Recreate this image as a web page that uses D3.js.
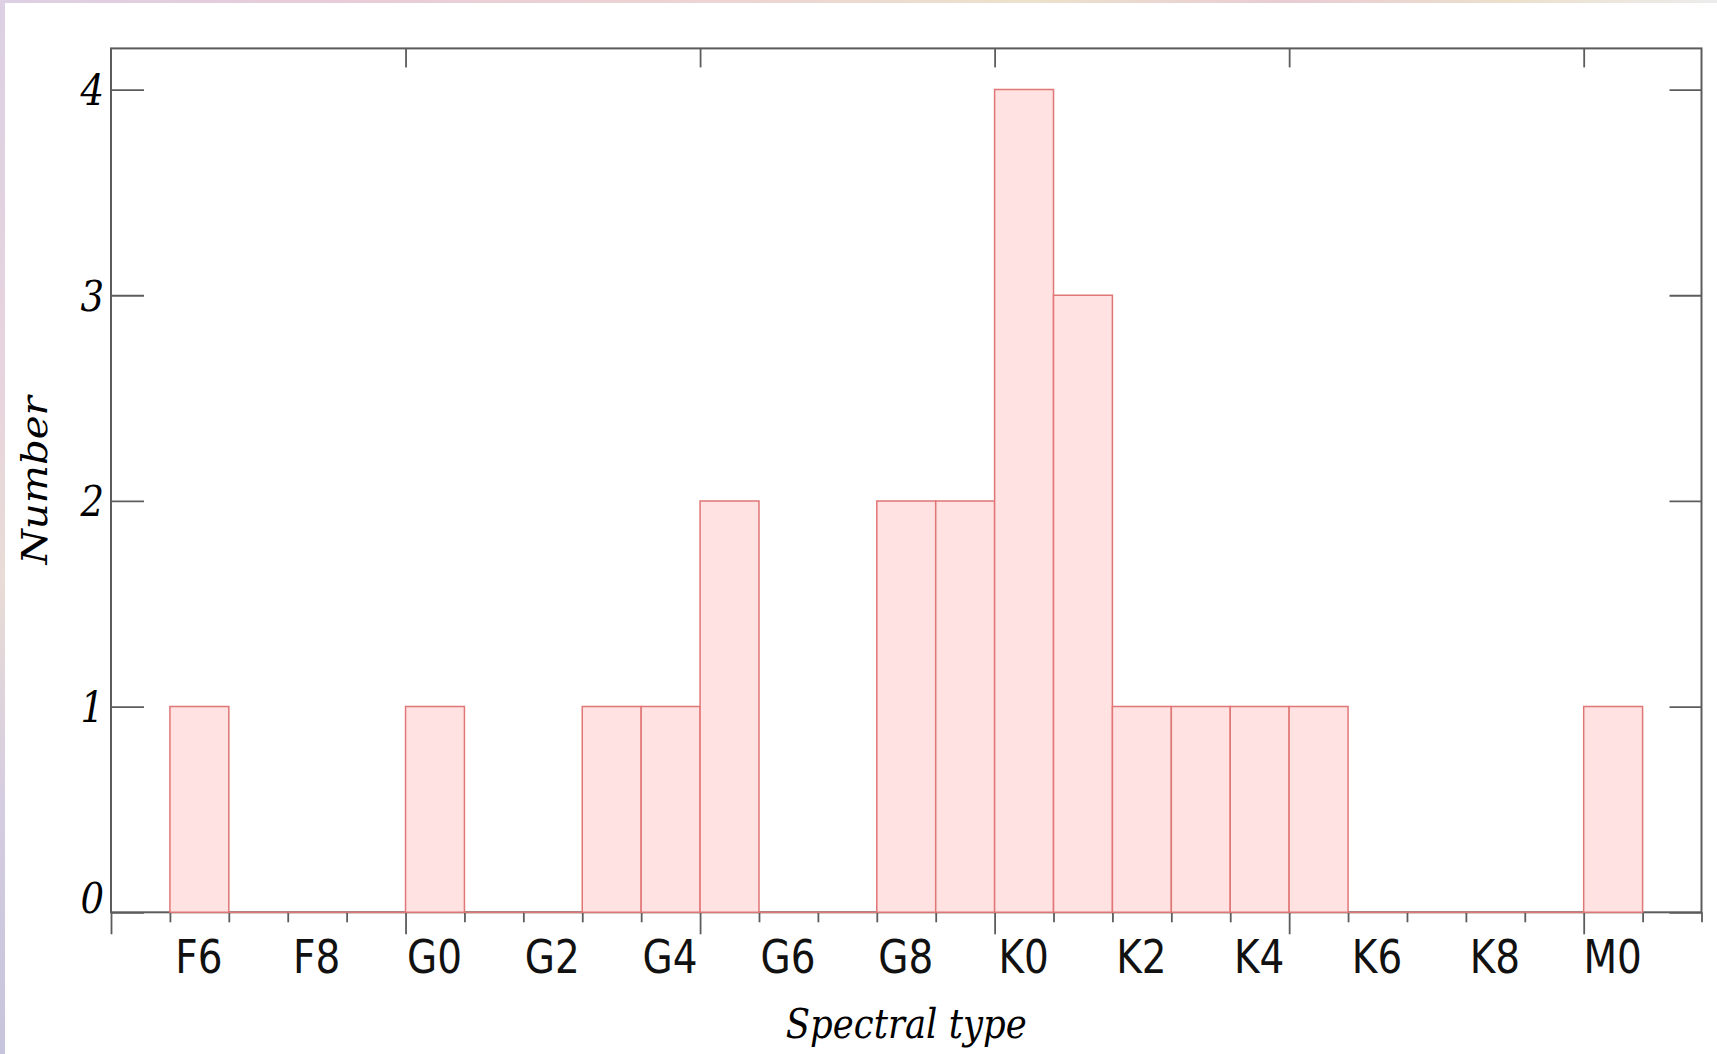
<!DOCTYPE html>
<html>
<head>
<meta charset="utf-8">
<script src="https://cdn.jsdelivr.net/npm/d3@7"></script>
<style>
  html, body { margin: 0; padding: 0; background: #fff; }
  svg { display: block; }
</style>
</head>
<body>
<svg id="chart" width="1717" height="1054"></svg>
<script>
// Spectral-type bins (one per subclass) and the number of stars in each
const spectralTypes = ["F6","F7","F8","F9","G0","G1","G2","G3","G4","G5","G6","G7","G8","G9",
                       "K0","K1","K2","K3","K4","K5","K6","K7","K8","K9","M0"];
const counts        = [1,0,0,0,1,0,0,1,1,2,0,0,2,2,4,3,1,1,1,1,0,0,0,0,1];
// Labelled subclasses along the bottom axis
const tickLabels    = ["F6","F8","G0","G2","G4","G6","G8","K0","K2","K4","K6","K8","M0"];
// Subclass boundaries that get long ticks (F5, G0, G5, K0, K5, M0)
const majorBounds   = ["F5","G0","G5","K0","K5","M0"];
const yTicks        = [0,1,2,3,4];

const W = 1717, H = 1054;
const margin = { left: 111, right: W - 1701.5, top: 48.4, bottom: H - 912.3 };
const stretch = 1.15;           // text is set slightly taller than wide
const frameColor = "#5c5c5c";

const svg = d3.select("#chart");

// soft coloured edge along the left and top of the page
const defs = svg.append("defs");
const gl = defs.append("linearGradient").attr("id", "edgeLeft")
  .attr("x1", 0).attr("y1", 0).attr("x2", 0).attr("y2", 1);
[["0%","#ddd0e4"],["35%","#e6d4de"],["55%","#e9dcd6"],["75%","#d6cde0"],["100%","#c6c4dc"]]
  .forEach(([o,c]) => gl.append("stop").attr("offset", o).attr("stop-color", c));
const gt = defs.append("linearGradient").attr("id", "edgeTop")
  .attr("x1", 0).attr("y1", 0).attr("x2", 1).attr("y2", 0);
[["0%","#ddd0e4"],["20%","#e8ccd8"],["45%","#ecd6d2"],["60%","#ece2cc"],["75%","#e8ccd4"],["88%","#ece0cc"],["100%","#ececec"]]
  .forEach(([o,c]) => gt.append("stop").attr("offset", o).attr("stop-color", c));
svg.append("rect").attr("x", 0).attr("y", 0).attr("width", W).attr("height", 3).attr("fill", "url(#edgeTop)");
svg.append("rect").attr("x", 0).attr("y", 0).attr("width", 5).attr("height", H).attr("fill", "url(#edgeLeft)");

// x: bin i covers [i, i+1]; the frame runs from the F5 boundary to the M2 boundary
const x = d3.scaleLinear().domain([-1, spectralTypes.length + 1])
  .range([margin.left, W - margin.right]);
const y = d3.scaleLinear().domain([0, 4.2])
  .range([H - margin.bottom, margin.top]);

const boundIndex = name => name === "F5" ? -1 : spectralTypes.indexOf(name);
const majorVals = majorBounds.map(boundIndex);
const allBounds = d3.range(-1, spectralTypes.length + 2);
const minorVals = allBounds.filter(v => !majorVals.includes(v));

// plot frame
svg.append("rect")
  .attr("x", x.range()[0]).attr("y", y.range()[1])
  .attr("width", x.range()[1] - x.range()[0])
  .attr("height", y.range()[0] - y.range()[1])
  .attr("fill", "none").attr("stroke", frameColor).attr("stroke-width", 2);

function styleTicks(g) {
  g.select(".domain").remove();
  g.selectAll(".tick line").attr("stroke", frameColor).attr("stroke-width", 1.8);
  g.selectAll(".tick text").remove();
}

// bottom: long ticks at major boundaries, short ones at every other subclass
svg.append("g").attr("transform", `translate(0,${y(0)})`)
  .call(d3.axisBottom(x).tickValues(minorVals).tickSizeInner(10).tickSizeOuter(0))
  .call(styleTicks);
svg.append("g").attr("transform", `translate(0,${y(0)})`)
  .call(d3.axisBottom(x).tickValues(majorVals).tickSizeInner(22).tickSizeOuter(0))
  .call(styleTicks);
// top: inward major ticks only
svg.append("g").attr("transform", `translate(0,${y.range()[1]})`)
  .call(d3.axisTop(x).tickValues(majorVals.filter(v => v > -1)).tickSizeInner(-19).tickSizeOuter(0))
  .call(styleTicks);
// left and right: inward ticks at each count
svg.append("g").attr("transform", `translate(${x.range()[0]},0)`)
  .call(d3.axisLeft(y).tickValues(yTicks).tickSizeInner(-33).tickSizeOuter(0))
  .call(styleTicks);
svg.append("g").attr("transform", `translate(${x.range()[1]},0)`)
  .call(d3.axisRight(y).tickValues(yTicks).tickSizeInner(-32).tickSizeOuter(0))
  .call(styleTicks);

// histogram: each bin is an outlined step, empty bins collapse onto the baseline
svg.append("g").selectAll("path.bin")
  .data(counts)
  .join("path")
  .attr("class", "bin")
  .attr("d", (c, i) => {
    const x0 = x(i), x1 = x(i + 1), y0 = y(0), y1 = y(c);
    return `M${x0},${y0}V${y1}H${x1}V${y0}Z`;
  })
  .attr("fill", "#ffe2e1")
  .attr("stroke", "#e07676")
  .attr("stroke-width", 1.5)
  .attr("stroke-linejoin", "miter");

// y tick labels (italic serif)
const yLab = svg.append("g").attr("transform", `translate(${x.range()[0]},0)`)
  .call(d3.axisLeft(y).tickValues(yTicks).tickSize(0).tickFormat(d3.format("d")));
yLab.select(".domain").remove();
yLab.selectAll(".tick text")
  .attr("x", null).attr("dy", null)
  .attr("font-family", "'DejaVu Serif', serif")
  .attr("font-style", "italic")
  .attr("font-size", 37)
  .attr("fill", "#000")
  .attr("text-anchor", "end")
  .attr("transform", d => `translate(-7,${d === 0 ? 0.5 : 15}) scale(1,${stretch})`);

// x tick labels (sans) at bin centres
const labelPos = tickLabels.map(t => spectralTypes.indexOf(t) + 0.5);
const xLab = svg.append("g").attr("transform", `translate(0,${y(0)})`)
  .call(d3.axisBottom(x).tickValues(labelPos).tickSize(0)
    .tickFormat(v => spectralTypes[Math.floor(v)]));
xLab.select(".domain").remove();
xLab.selectAll(".tick text")
  .attr("y", null).attr("dy", null)
  .attr("font-family", "'DejaVu Sans', sans-serif")
  .attr("font-size", 39)
  .attr("fill", "#111")
  .attr("transform", `translate(-1,61) scale(1,${stretch + 0.03})`);

// axis titles
const cx = (x.range()[0] + x.range()[1]) / 2;
const cy = (y.range()[0] + y.range()[1]) / 2;
svg.append("text")
  .attr("transform", `translate(${cx},1038) scale(1,${stretch})`)
  .attr("text-anchor", "middle")
  .attr("font-family", "'DejaVu Serif', serif")
  .attr("font-style", "italic")
  .attr("font-size", 35.5)
  .text("Spectral type");
svg.append("text")
  .attr("transform", `translate(47,${cy}) rotate(-90) scale(${stretch},1)`)
  .attr("text-anchor", "middle")
  .attr("font-family", "'DejaVu Serif', serif")
  .attr("font-style", "italic")
  .attr("font-size", 35)
  .text("Number");
</script>
</body>
</html>
